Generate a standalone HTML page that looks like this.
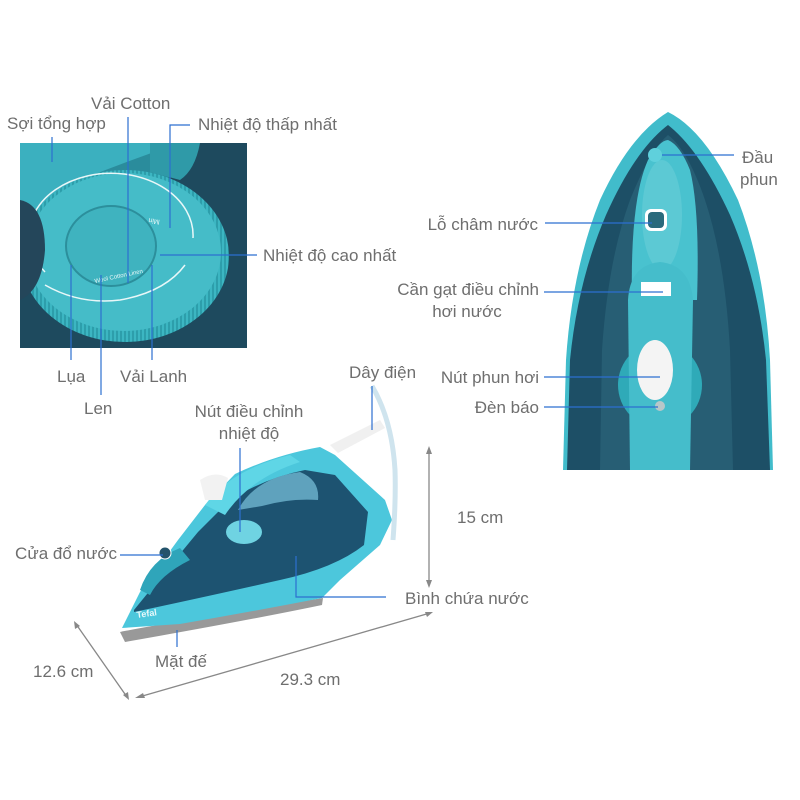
<!DOCTYPE html>
<html><head><meta charset="utf-8"><style>
body{margin:0;background:#fff;}
svg{display:block}
text{font-family:"Liberation Sans",sans-serif;font-size:17px;fill:#6e6e6e;}
</style></head><body>
<svg width="800" height="800" viewBox="0 0 800 800" xmlns="http://www.w3.org/2000/svg">
<defs>
<clipPath id="c1"><rect x="20" y="143" width="227" height="205"/></clipPath>
<pattern id="ridge" width="4" height="4" patternUnits="userSpaceOnUse"><rect width="4" height="4" fill="#3cb6c2"/><rect width="2" height="4" fill="#2d9eab"/></pattern>
</defs>
<g clip-path="url(#c1)">
<rect x="20" y="143" width="227" height="205" fill="#1e4a5e"/>
<path d="M20 143 H195 Q190 175 160 180 Q90 185 50 215 L20 240 Z" fill="#2a8c9c"/>
<path d="M20 143 H180 Q130 160 80 180 Q40 200 20 230 Z" fill="#3bb0bf"/>
<path d="M150 143 H200 Q195 170 180 180 L150 172 Z" fill="#2f9aa8"/>
<ellipse cx="125" cy="256" rx="104" ry="86" fill="url(#ridge)"/>
<ellipse cx="124" cy="252" rx="97" ry="79" fill="#45bcc8"/>
<path d="M45 272 A82 62 0 1 1 193 238" fill="none" stroke="#e8f7f8" stroke-width="1.5"/>
<path d="M45 285 Q80 305 120 300 Q165 292 185 265" fill="none" stroke="#e8f7f8" stroke-width="1.5"/>
<ellipse cx="111" cy="246" rx="45" ry="40" fill="#3fb3bf" stroke="#2c8f9c" stroke-width="2"/>
<path d="M20 200 Q45 205 45 250 Q42 290 20 300 Z" fill="#24465a"/>
<text x="95" y="283" style="font-size:6px;fill:#e8f7f8" transform="rotate(-12 95 283)">Wool Cotton Linen</text>
<text x="160" y="220" style="font-size:7px;fill:#e8f7f8" transform="rotate(190 160 220)">Min</text>
</g>
<path d="M563 470 L566 360 Q572 270 600 200 Q630 135 668 112 Q705 130 738 200 Q765 270 770 360 L773 470 Z" fill="#41bccb"/>
<path d="M567 470 L570 360 Q578 280 606 215 Q635 150 668 125 Q700 150 730 215 Q758 280 766 360 L770 470 Z" fill="#1d4f66"/>
<path d="M600 470 L602 350 Q608 260 630 200 Q650 150 668 135 Q688 150 705 200 Q725 260 730 350 L733 470 Z" fill="#275e74"/>
<path d="M632 300 Q630 200 648 160 Q660 140 668 140 Q680 145 690 170 Q700 210 697 300 Z" fill="#49c2cf"/>
<ellipse cx="662" cy="215" rx="20" ry="55" fill="#5cc9d4"/>
<rect x="645" y="209" width="22" height="22" rx="6" fill="#fff"/>
<rect x="648" y="212" width="16" height="16" rx="4" fill="#2a6a7c"/>
<ellipse cx="660" cy="385" rx="42" ry="43" fill="#2faab8"/>
<path d="M628 300 Q630 265 660 262 Q690 265 693 300 L690 470 H630 Z" fill="#45bdcb"/>
<rect x="641" y="282" width="30" height="14" fill="#fff"/>
<ellipse cx="655" cy="370" rx="18" ry="30" fill="#f4f4f4"/>
<circle cx="660" cy="406" r="5" fill="#b8c7c9"/>
<circle cx="655" cy="155" r="7" fill="#5fd0dc"/>
<path d="M120 632 Q170 622 323 598 L322 605 Q250 620 125 642 Z" fill="#999"/>
<path d="M122 628 L140 592 L178 540 L205 505 L235 474 Q275 455 320 447 L335 455 L385 500 L392 520 L380 545 L340 580 L322 598 Q250 612 180 624 Z" fill="#4cc7dc"/>
<path d="M134 610 Q160 578 198 532 L230 500 Q265 478 305 470 L335 475 L368 512 L364 545 Q335 568 280 580 Q200 598 134 612 Z" fill="#1d5371"/>
<path d="M238 510 Q255 478 300 472 Q320 480 318 500 Q290 498 262 506 Z" fill="#5fa2bd"/>
<path d="M205 505 Q230 470 290 455 L300 462 Q250 478 225 515 Z" fill="#5fd6e6"/>
<ellipse cx="244" cy="532" rx="18" ry="12" fill="#6fd3e2"/>
<path d="M200 480 Q215 470 228 478 L222 500 L205 500 Z" fill="#f2f2f2"/>
<path d="M140 590 Q150 560 180 548 L190 560 Q160 575 150 595 Z" fill="#2fa5ba"/>
<circle cx="165" cy="553" r="6" fill="#24546c" stroke="#fff" stroke-width="1"/>
<path d="M372 386 Q392 420 395 470 Q396 500 393 540" fill="none" stroke="#cfe4ee" stroke-width="5"/>
<path d="M330 445 L380 420 L385 428 L338 453 Z" fill="#f0f0f0"/>
<text x="137" y="618" style="font-size:9px;fill:#e8f8fa;font-weight:bold" transform="rotate(-8 137 618)">Tefal</text>
<g stroke="#888" stroke-width="1.3" fill="none">
<line x1="429" y1="450" x2="429" y2="585"/>
<line x1="139" y1="697" x2="430" y2="613"/>
<line x1="76" y1="624" x2="127" y2="697"/>
</g>
<g fill="#888">
<path d="M429 446 l-3 8 h6 z"/><path d="M429 588 l-3 -8 h6 z"/>
<path d="M135 698 l8 -5 l2 5 z"/><path d="M433 612 l-8 0 l2 5 z"/>
<path d="M74 621 l1 8 l5 -3 z"/><path d="M129 700 l-1 -8 l-5 3 z"/>
</g>
<g stroke="#2c6fd0" stroke-width="1.2" fill="none">
<line x1="52" y1="137" x2="52" y2="162"/>
<line x1="128" y1="117" x2="128" y2="283"/>
<polyline points="190,125 170,125 170,228"/>
<line x1="160" y1="255" x2="257" y2="255"/>
<line x1="71" y1="265" x2="71" y2="360"/>
<line x1="101" y1="275" x2="101" y2="395"/>
<line x1="152" y1="265" x2="152" y2="360"/>
<line x1="372" y1="386" x2="372" y2="430"/>
<line x1="240" y1="448" x2="240" y2="532"/>
<line x1="120" y1="555" x2="163" y2="555"/>
<polyline points="296,556 296,597 386,597"/>
<line x1="177" y1="630" x2="177" y2="647"/>
<line x1="545" y1="223" x2="652" y2="223"/>
<line x1="544" y1="292" x2="663" y2="292"/>
<line x1="544" y1="377" x2="660" y2="377"/>
<line x1="544" y1="407" x2="658" y2="407"/>
<line x1="662" y1="155" x2="734" y2="155"/>
</g>
<text x="7" y="129">Sợi tổng hợp</text>
<text x="91" y="109">Vải Cotton</text>
<text x="198" y="130">Nhiệt độ thấp nhất</text>
<text x="263" y="261">Nhiệt độ cao nhất</text>
<text x="57" y="382">Lụa</text>
<text x="84" y="414">Len</text>
<text x="120" y="382">Vải Lanh</text>
<text x="349" y="378">Dây điện</text>
<text x="249" y="417" text-anchor="middle">Nút điều chỉnh</text>
<text x="249" y="439" text-anchor="middle">nhiệt độ</text>
<text x="117" y="559" text-anchor="end">Cửa đổ nước</text>
<text x="405" y="604">Bình chứa nước</text>
<text x="155" y="667">Mặt đế</text>
<text x="33" y="677">12.6 cm</text>
<text x="280" y="685">29.3 cm</text>
<text x="457" y="523">15 cm</text>
<text x="538" y="230" text-anchor="end">Lỗ châm nước</text>
<text x="539" y="295" text-anchor="end">Cần gạt điều chỉnh</text>
<text x="467" y="317" text-anchor="middle">hơi nước</text>
<text x="539" y="383" text-anchor="end">Nút phun hơi</text>
<text x="539" y="413" text-anchor="end">Đèn báo</text>
<text x="742" y="163">Đầu</text>
<text x="740" y="185">phun</text>
</svg>
</body></html>
